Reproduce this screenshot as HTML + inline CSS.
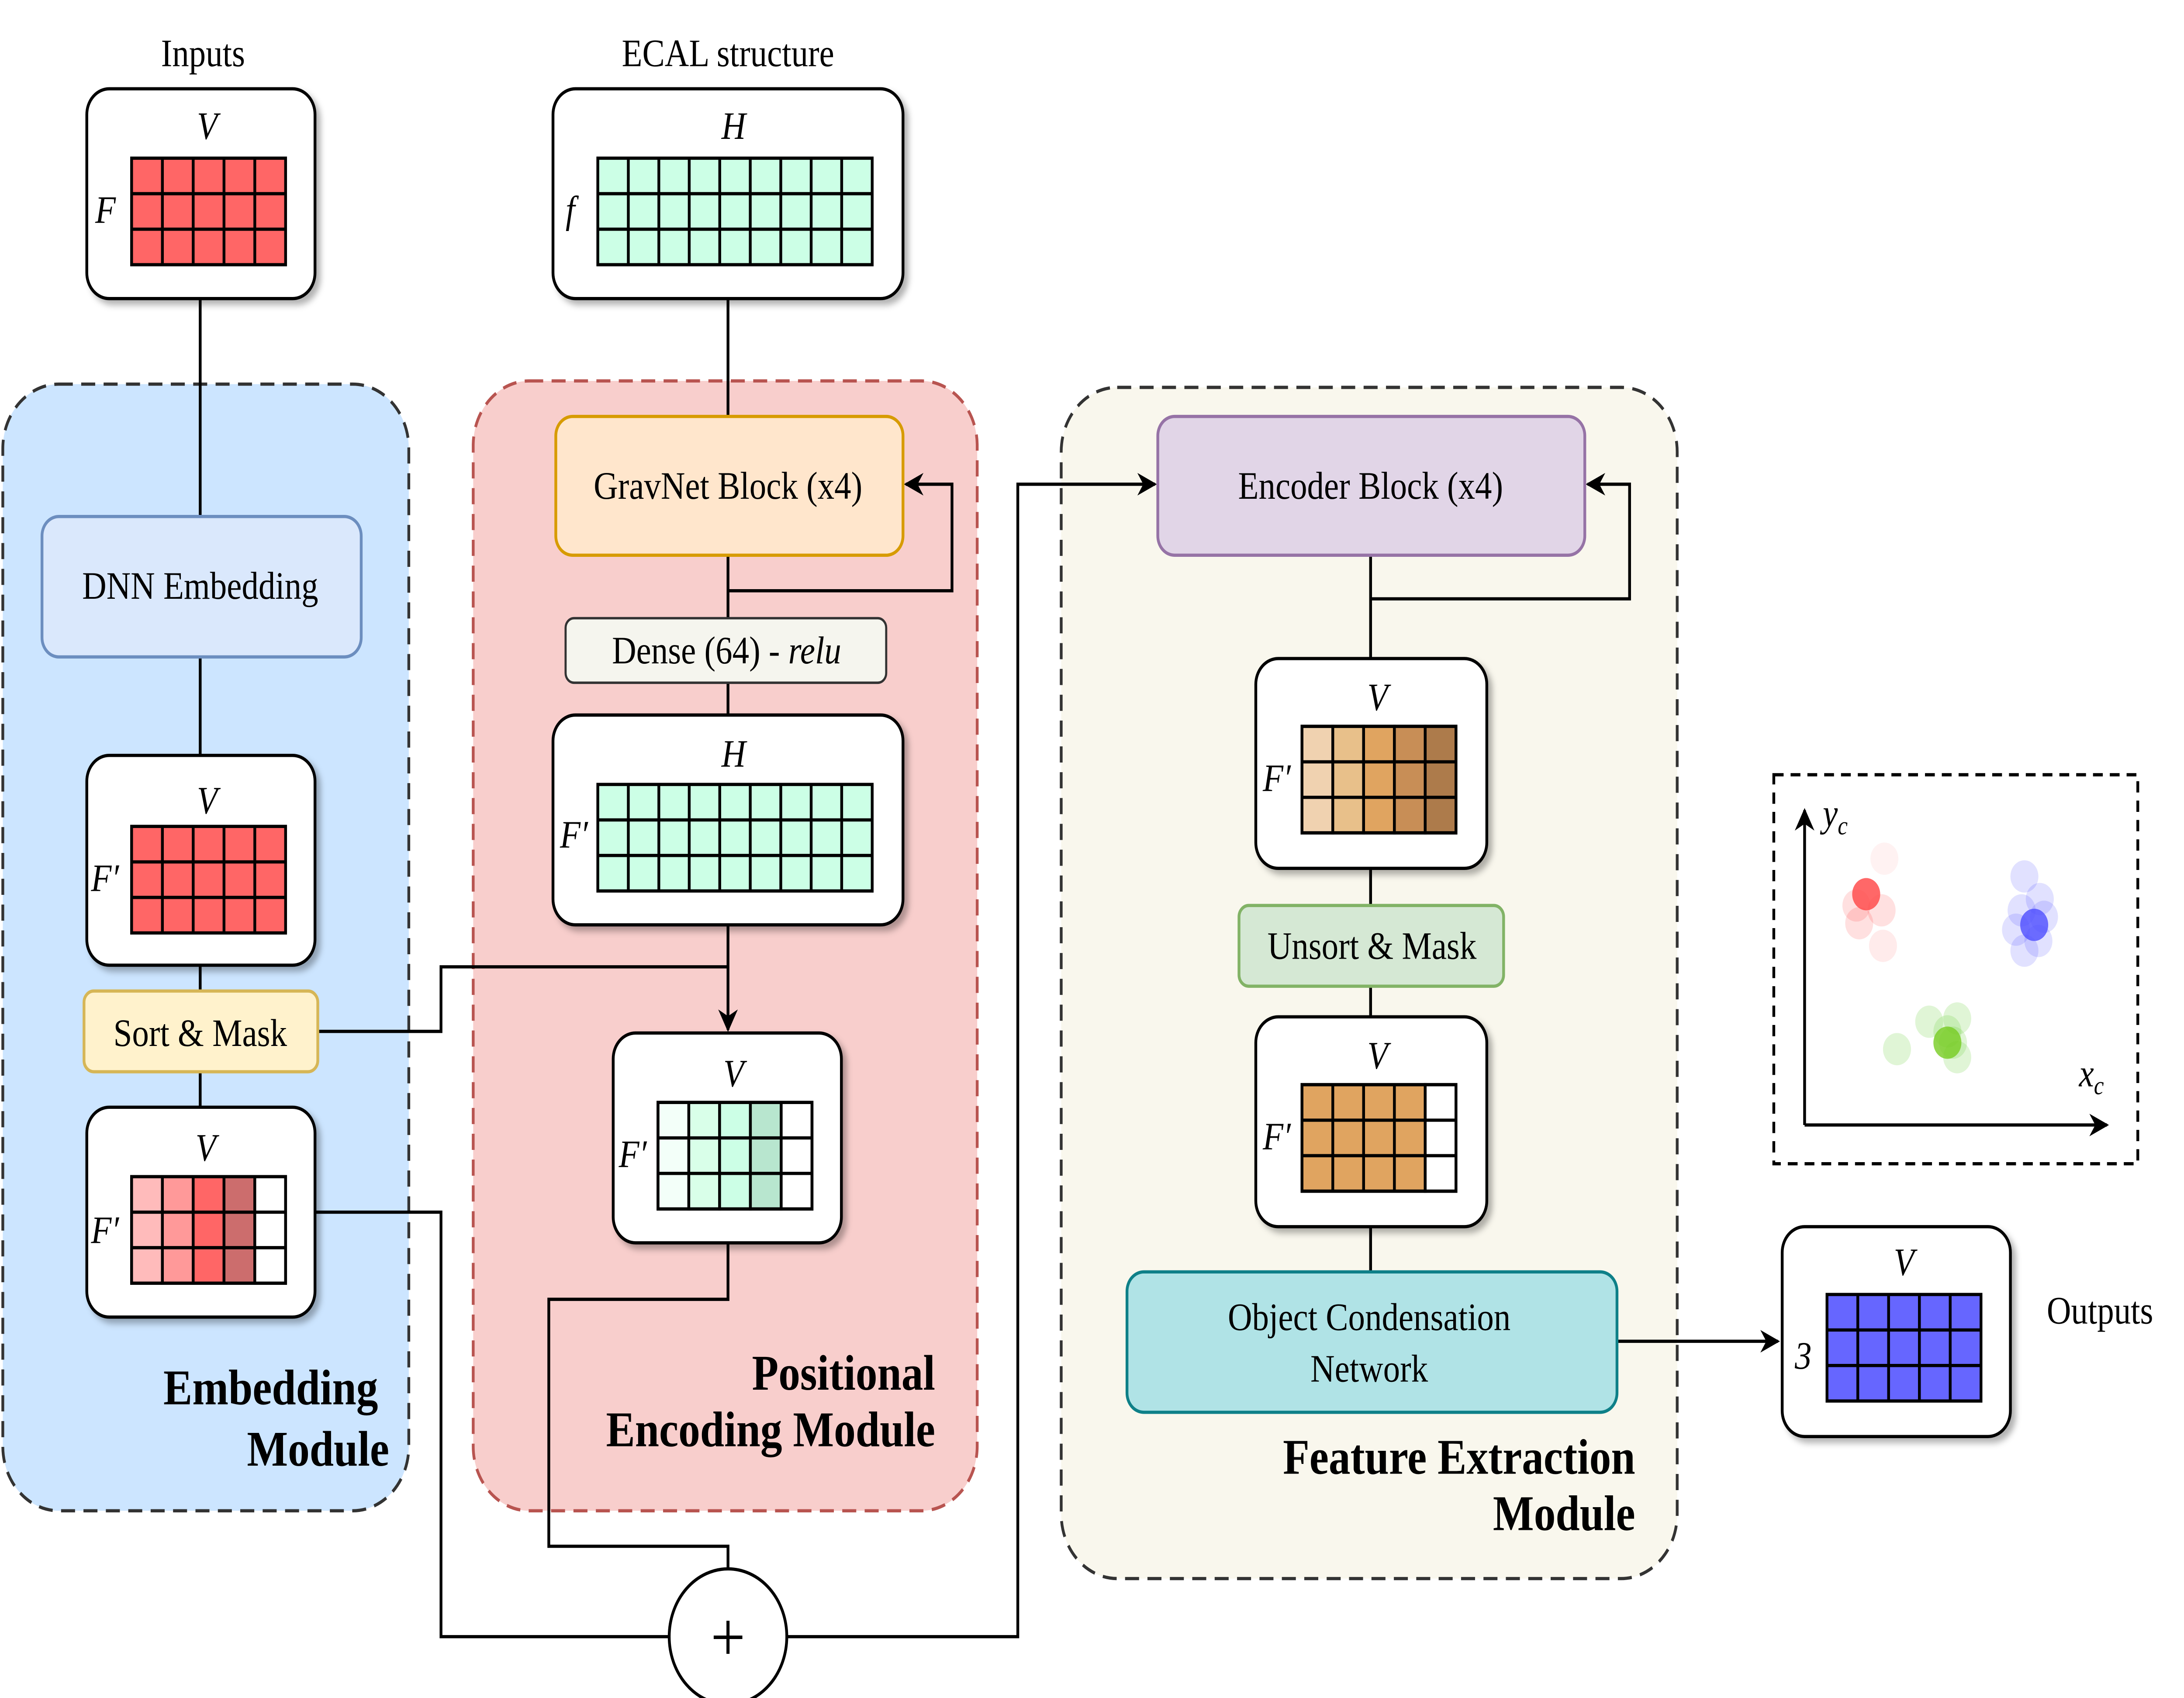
<!DOCTYPE html>
<html><head><meta charset="utf-8"><style>
html,body{margin:0;padding:0;background:#fff;overflow:hidden;width:100%;height:100%}
svg{display:block;width:100vw;height:100vh}
text{font-family:"Liberation Serif",serif;fill:#000}
.it{font-style:italic}
.b{font-weight:bold}
</style></head><body>
<svg viewBox="0 0 1560 1052" preserveAspectRatio="none" xmlns="http://www.w3.org/2000/svg">
<defs>
<filter id="sh" x="-10%" y="-10%" width="130%" height="130%"><feDropShadow dx="3" dy="3" stdDeviation="2" flood-color="#000" flood-opacity="0.3"/></filter>
<marker id="ar" viewBox="0 0 10 10" refX="9" refY="5" markerWidth="14" markerHeight="14" markerUnits="userSpaceOnUse" orient="auto"><path d="M0,0 L10,5 L0,10 L3,5 z" fill="#000"/></marker>
</defs>
<rect width="1560" height="1052" fill="#fff"/>

<rect x="2" y="238" width="290" height="698" rx="40" fill="#cce5ff" stroke="#333" stroke-width="2" stroke-dasharray="10 6"/>
<rect x="338" y="236" width="360" height="700" rx="40" fill="#f8cecc" stroke="#b85450" stroke-width="2" stroke-dasharray="10 6"/>
<rect x="758" y="240" width="440" height="738" rx="40" fill="#f9f7ed" stroke="#333" stroke-width="2" stroke-dasharray="10 6"/>

<g font-size="24">
<text x="145" y="41" text-anchor="middle">Inputs</text>
<text x="520" y="41" text-anchor="middle">ECAL structure</text>
<text x="1500" y="820" text-anchor="middle">Outputs</text>
</g>
<g font-size="31" class="b" text-anchor="end">
<text x="270" y="870">Embedding</text>
<text x="278" y="908">Module</text>
<text x="668" y="861">Positional</text>
<text x="668" y="896">Encoding Module</text>
<text x="1168" y="913">Feature Extraction</text>
<text x="1168" y="948">Module</text>
</g>

<g stroke="#000" stroke-width="2" fill="none">
<path d="M143 185 V320 M143 407 V468 M143 598 V614 M143 664 V686"/>
<path d="M520 185 V258 M520 344 V383 M520 423 V443"/>
<path d="M520 366 H680 V300 H647" marker-end="url(#ar)"/>
<path d="M520 573 V638" marker-end="url(#ar)"/>
<path d="M227 639 H315 V599 H520"/>
<path d="M520 770 V805 H392 V958 H520 V972"/>
<path d="M225 751 H315 V1014 H478"/>
<path d="M562 1014 H727 V300 H825" marker-end="url(#ar)"/>
<path d="M979 344 V408 M979 371 H1164 V300 H1134" marker-end="url(#ar)"/>
<path d="M979 538 V561 M979 611 V630 M979 760 V788"/>
<path d="M1155 831 H1270" marker-end="url(#ar)"/>
</g>
<circle cx="520" cy="1014" r="42" fill="#fff" stroke="#000" stroke-width="2"/>
<text x="520" y="1029" font-size="44" text-anchor="middle">+</text>

<rect x="30" y="320" width="228" height="87" rx="12" fill="#dae8fc" stroke="#6c8ebf" stroke-width="2"/>
<text x="143" y="371" font-size="24" text-anchor="middle">DNN Embedding</text>
<rect x="60" y="614" width="167" height="50" rx="7" fill="#fff2cc" stroke="#d6b656" stroke-width="2"/>
<text x="143" y="648" font-size="24" text-anchor="middle">Sort &amp; Mask</text>
<rect x="397" y="258" width="248" height="86" rx="12" fill="#ffe6cc" stroke="#d79b00" stroke-width="2"/>
<text x="520" y="309" font-size="24" text-anchor="middle">GravNet Block (x4)</text>
<rect x="404" y="383" width="229" height="40" rx="6" fill="#f5f5ee" stroke="#333" stroke-width="1.5"/>
<text x="519" y="411" font-size="24" text-anchor="middle">Dense (64) - <tspan class="it">relu</tspan></text>
<rect x="827" y="258" width="305" height="86" rx="12" fill="#e1d5e7" stroke="#9673a6" stroke-width="2"/>
<text x="979" y="309" font-size="24" text-anchor="middle">Encoder Block (x4)</text>
<rect x="885" y="561" width="189" height="50" rx="7" fill="#d5e8d4" stroke="#82b366" stroke-width="2"/>
<text x="980" y="594" font-size="24" text-anchor="middle">Unsort &amp; Mask</text>
<rect x="805" y="788" width="350" height="87" rx="12" fill="#b0e3e6" stroke="#0e8088" stroke-width="2"/>
<text x="978" y="824" font-size="24" text-anchor="middle">Object Condensation</text>
<text x="978" y="856" font-size="24" text-anchor="middle">Network</text>

<g fill="#fff" stroke="#000" stroke-width="2" filter="url(#sh)">
<rect x="62" y="55" width="163" height="130" rx="16"/>
<rect x="395" y="55" width="250" height="130" rx="16"/>
<rect x="62" y="468" width="163" height="130" rx="16"/>
<rect x="62" y="686" width="163" height="130" rx="16"/>
<rect x="395" y="443" width="250" height="130" rx="16"/>
<rect x="438" y="640" width="163" height="130" rx="16"/>
<rect x="897" y="408" width="165" height="130" rx="16"/>
<rect x="897" y="630" width="165" height="130" rx="16"/>
<rect x="1273" y="760" width="163" height="130" rx="16"/>
</g>
<g font-size="24" class="it">
<text x="148" y="86" text-anchor="middle">V</text><text x="68" y="138">F</text>
<text x="524" y="86" text-anchor="middle">H</text><text x="404" y="138">f</text>
<text x="148" y="504" text-anchor="middle">V</text><text x="65" y="552">F′</text>
<text x="147" y="719" text-anchor="middle">V</text><text x="65" y="770">F′</text>
<text x="524" y="475" text-anchor="middle">H</text><text x="400" y="525">F′</text>
<text x="524" y="673" text-anchor="middle">V</text><text x="442" y="723">F′</text>
<text x="984" y="440" text-anchor="middle">V</text><text x="902" y="490">F′</text>
<text x="984" y="662" text-anchor="middle">V</text><text x="902" y="712">F′</text>
<text x="1360" y="790" text-anchor="middle">V</text><text x="1282" y="848">3</text>
</g>

<g stroke="#000" stroke-width="2">
<rect x="94" y="98" width="110" height="66" fill="#ff6666"/>
<path d="M116 98v66M138 98v66M160 98v66M182 98v66M94 120h110M94 142h110"/>
<rect x="94" y="512" width="110" height="66" fill="#ff6666"/>
<path d="M116 512v66M138 512v66M160 512v66M182 512v66M94 534h110M94 556h110"/>
<rect x="94" y="729" width="22" height="66" fill="#ffbbbb"/><rect x="116" y="729" width="22" height="66" fill="#ff9999"/><rect x="138" y="729" width="22" height="66" fill="#ff6666"/><rect x="160" y="729" width="22" height="66" fill="#cc6d6d"/><rect x="182" y="729" width="22" height="66" fill="#fff"/>
<path d="M94 751h110M94 773h110"/><rect x="94" y="729" width="110" height="66" fill="none"/>
<rect x="427" y="98" width="196" height="66" fill="#ccffe6"/>
<path d="M448.8 98v66M470.6 98v66M492.3 98v66M514.1 98v66M535.9 98v66M557.7 98v66M579.4 98v66M601.2 98v66M427 120h196M427 142h196"/>
<rect x="427" y="486" width="196" height="66" fill="#ccffe6"/>
<path d="M448.8 486v66M470.6 486v66M492.3 486v66M514.1 486v66M535.9 486v66M557.7 486v66M579.4 486v66M601.2 486v66M427 508h196M427 530h196"/>
<rect x="470" y="683" width="22" height="66" fill="#f3fff9"/><rect x="492" y="683" width="22" height="66" fill="#d9ffe9"/><rect x="514" y="683" width="22" height="66" fill="#ccffe6"/><rect x="536" y="683" width="22" height="66" fill="#b8e6cf"/><rect x="558" y="683" width="22" height="66" fill="#fff"/>
<path d="M470 705h110M470 727h110"/><rect x="470" y="683" width="110" height="66" fill="none"/>
<rect x="930" y="450" width="22" height="66" fill="#f0d2b0"/><rect x="952" y="450" width="22" height="66" fill="#e8c08a"/><rect x="974" y="450" width="22" height="66" fill="#e0a460"/><rect x="996" y="450" width="22" height="66" fill="#c88e56"/><rect x="1018" y="450" width="22" height="66" fill="#ad7b4b"/>
<path d="M930 472h110M930 494h110"/><rect x="930" y="450" width="110" height="66" fill="none"/>
<rect x="930" y="672" width="88" height="66" fill="#e0a460"/><rect x="1018" y="672" width="22" height="66" fill="#fff"/>
<path d="M952 672v66M974 672v66M996 672v66M930 694h110M930 716h110"/><rect x="930" y="672" width="110" height="66" fill="none"/>
<rect x="1305" y="802" width="110" height="66" fill="#6666ff"/>
<path d="M1327 802v66M1349 802v66M1371 802v66M1393 802v66M1305 824h110M1305 846h110"/>
</g>

<rect x="1267" y="480" width="260" height="241" fill="#fff" stroke="#000" stroke-width="2" stroke-dasharray="7 5"/>
<g stroke="#000" stroke-width="2" fill="none">
<path d="M1289 697 V502" marker-end="url(#ar)"/>
<path d="M1289 697 H1505" marker-end="url(#ar)"/>
</g>
<text x="1302" y="512" font-size="24" class="it">y<tspan font-size="16" dy="5">c</tspan></text>
<text x="1485" y="673" font-size="24" class="it">x<tspan font-size="16" dy="5">c</tspan></text>
<g>
<circle cx="1346" cy="532" r="10" fill="#ff0000" opacity="0.05"/>
<circle cx="1326" cy="561" r="10" fill="#ff0000" opacity="0.12"/>
<circle cx="1344" cy="564" r="10" fill="#ff0000" opacity="0.12"/>
<circle cx="1328" cy="572" r="10" fill="#ff0000" opacity="0.12"/>
<circle cx="1345" cy="586" r="10" fill="#ff0000" opacity="0.08"/>
<circle cx="1333" cy="554" r="10" fill="#ff4d4d" opacity="0.85"/>
<circle cx="1446" cy="543" r="10" fill="#3333ff" opacity="0.15"/>
<circle cx="1457" cy="557" r="10" fill="#3333ff" opacity="0.15"/>
<circle cx="1444" cy="564" r="10" fill="#3333ff" opacity="0.15"/>
<circle cx="1460" cy="568" r="10" fill="#3333ff" opacity="0.15"/>
<circle cx="1440" cy="576" r="10" fill="#3333ff" opacity="0.15"/>
<circle cx="1456" cy="583" r="10" fill="#3333ff" opacity="0.15"/>
<circle cx="1446" cy="589" r="10" fill="#3333ff" opacity="0.15"/>
<circle cx="1453" cy="573" r="10" fill="#4d4dff" opacity="0.8"/>
<circle cx="1355" cy="650" r="10" fill="#66cc33" opacity="0.2"/>
<circle cx="1378" cy="633" r="10" fill="#66cc33" opacity="0.2"/>
<circle cx="1398" cy="631" r="10" fill="#66cc33" opacity="0.2"/>
<circle cx="1391" cy="639" r="10" fill="#66cc33" opacity="0.2"/>
<circle cx="1395" cy="646" r="10" fill="#66cc33" opacity="0.2"/>
<circle cx="1398" cy="655" r="10" fill="#66cc33" opacity="0.2"/>
<circle cx="1391" cy="646" r="10" fill="#77cc22" opacity="0.8"/>
</g>
</svg>
</body></html>
